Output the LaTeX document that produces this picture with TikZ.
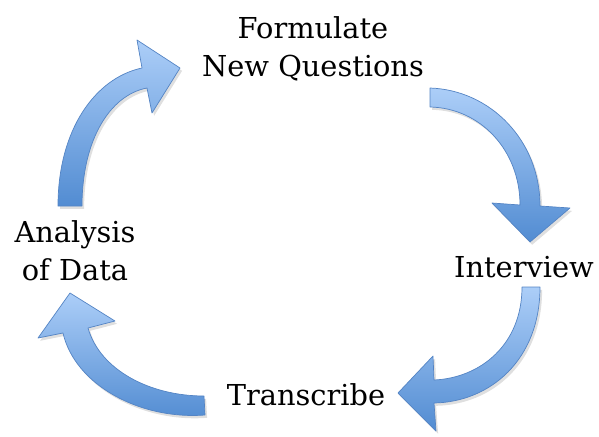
\documentclass[tikz,border=0pt]{standalone}
\usepackage{fontspec}
\setmainfont{DejaVu Serif}
\usetikzlibrary{shadows}
\definecolor{arrowlight}{RGB}{172,206,248}
\definecolor{arrowdark}{RGB}{82,140,210}
\definecolor{arrowedge}{RGB}{84,132,196}
\begin{document}
\begin{tikzpicture}[x=0.025cm, y=-0.025cm,
    blockarrow/.style={draw=arrowedge, line width=0.5pt, line join=round,
        top color=arrowlight, bottom color=arrowdark,
        drop shadow={shadow xshift=1.5pt, shadow yshift=-2pt, opacity=0.25}},
    stagetext/.style={font=\fontsize{20.5}{27}\selectfont, align=center, inner sep=0pt}]
    \useasboundingbox (0,0) rectangle (599,436);
    \draw[blockarrow] (58,206) .. controls (58,130) and (95,78) .. (142,68) -- (137,40) -- (180,68)
        -- (152,113) -- (147,88) .. controls (110,95) and (82,140) .. (82,206) -- cycle;
    \draw[blockarrow] (430,88) .. controls (490,90) and (540,140) .. (540,206) -- (570,208) -- (530,242)
        -- (492,203) -- (520,205) .. controls (520,150) and (480,108) .. (430,107) -- cycle;
    \draw[blockarrow] (540,287) .. controls (540,360) and (490,402) .. (434,403) -- (436,431) -- (398,393)
        -- (433,356) -- (434,380) .. controls (480,378) and (522,345) .. (522,287) -- cycle;
    \draw[blockarrow] (205,415) .. controls (140,420) and (75,385) .. (63,333) -- (38,338) -- (70,293)
        -- (115,321) -- (88,328) .. controls (100,370) and (150,396) .. (204,396) -- cycle;
    \node[stagetext] (formulate) at (313,49) {Formulate\\New Questions};
    \node[stagetext] (analysis) at (75,251) {Analysis\\of Data};
    \node[stagetext, anchor=base] (interview) at (524,277) {Interview};
    \node[stagetext, anchor=base] (transcribe) at (306,405) {Transcribe};
\end{tikzpicture}
\end{document}
